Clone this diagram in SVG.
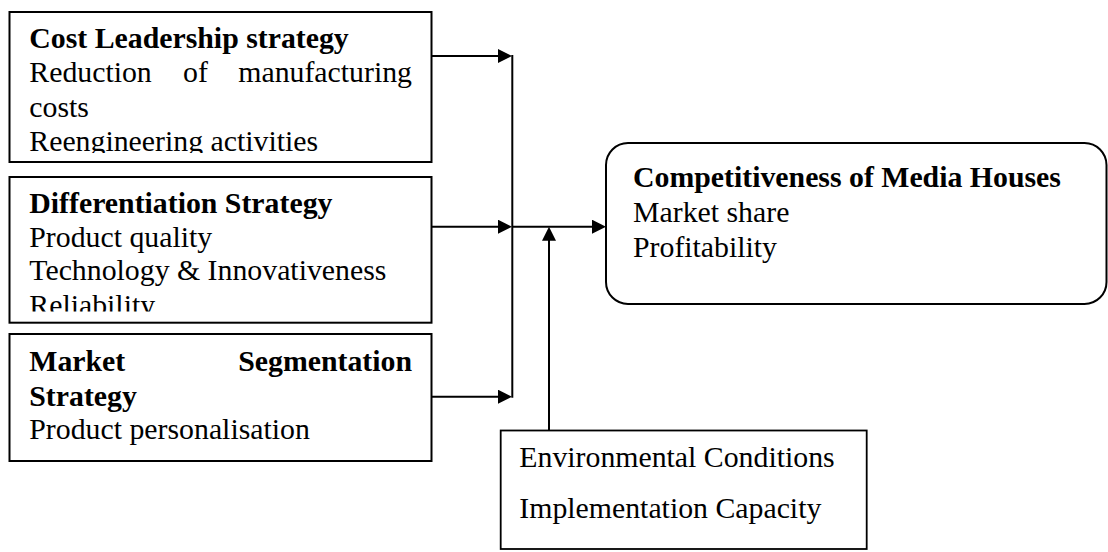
<svg xmlns="http://www.w3.org/2000/svg" width="1108" height="552" viewBox="0 0 1108 552">
  <style>
    .box { fill: #ffffff; stroke: #000000; stroke-width: 2; }
    .txt { font-family: "Liberation Serif", "Times New Roman", serif; font-size: 29.8px; fill: #000000; }
    .b { font-weight: bold; }
    .conn { stroke: #000000; stroke-width: 2; fill: none; }
  </style>
  <defs>
    <marker id="head" viewBox="0 0 14 14" refX="4" refY="7" markerWidth="14" markerHeight="14" markerUnits="userSpaceOnUse" orient="auto">
      <path d="M0,0 L14,7 L0,14 z" fill="#000000"/>
    </marker>
    <clipPath id="clip-cost"><rect x="10" y="13" width="421" height="140"/></clipPath>
    <clipPath id="clip-diff"><rect x="10" y="178" width="421" height="133.5"/></clipPath>
  </defs>

  <rect width="1108" height="552" fill="#ffffff"/>

  <!-- Strategy inputs -->
  <g id="cost-leadership">
    <rect class="box" x="9.5" y="12" width="422" height="150"/>
    <g clip-path="url(#clip-cost)">
      <text class="txt b" x="29.3" y="48.3">Cost Leadership strategy</text>
      <text class="txt" x="29.3" y="82.3">Reduction</text>
      <text class="txt" x="183" y="82.3">of</text>
      <text class="txt" x="412" y="82.3" text-anchor="end">manufacturing</text>
      <text class="txt" x="29.3" y="116.7">costs</text>
      <text class="txt" x="29.3" y="150.7">Reengineering activities</text>
    </g>
  </g>

  <g id="differentiation">
    <rect class="box" x="9.5" y="177" width="422" height="145.7"/>
    <g clip-path="url(#clip-diff)">
      <text class="txt b" x="29.3" y="213.3">Differentiation Strategy</text>
      <text class="txt" x="29.3" y="246.5">Product quality</text>
      <text class="txt" x="29.3" y="280.3">Technology &amp; Innovativeness</text>
      <text class="txt" x="29.3" y="314.5">Reliability</text>
    </g>
  </g>

  <g id="market-segmentation">
    <rect class="box" x="9.5" y="334" width="422" height="127"/>
    <text class="txt b" x="29.3" y="371">Market</text>
    <text class="txt b" x="412" y="371" text-anchor="end">Segmentation</text>
    <text class="txt b" x="29.3" y="405.5">Strategy</text>
    <text class="txt" x="29.3" y="439.3">Product personalisation</text>
  </g>

  <!-- Outcome -->
  <g id="competitiveness">
    <rect class="box" x="606" y="143" width="500.5" height="161" rx="22" ry="22"/>
    <text class="txt b" x="633" y="187.3">Competitiveness of Media Houses</text>
    <text class="txt" x="633" y="221.7">Market share</text>
    <text class="txt" x="633" y="256.7">Profitability</text>
  </g>

  <!-- Moderating factors -->
  <g id="moderators">
    <rect class="box" x="500.7" y="430.5" width="366" height="118.5" style="stroke-width:1.8"/>
    <text class="txt" x="519.3" y="466.7">Environmental Conditions</text>
    <text class="txt" x="519.3" y="518">Implementation Capacity</text>
  </g>

  <!-- Connectors -->
  <g id="connectors">
    <line class="conn" x1="431.5" y1="56" x2="502" y2="56" marker-end="url(#head)"/>
    <line class="conn" x1="431.5" y1="226.7" x2="502" y2="226.7" marker-end="url(#head)"/>
    <line class="conn" x1="431.5" y1="396.7" x2="502" y2="396.7" marker-end="url(#head)"/>
    <line class="conn" x1="512.3" y1="55" x2="512.3" y2="397.7"/>
    <line class="conn" x1="512.3" y1="226.7" x2="596" y2="226.7" marker-end="url(#head)"/>
    <line class="conn" x1="549" y1="430.5" x2="549" y2="236.7" marker-end="url(#head)"/>
  </g>
</svg>
